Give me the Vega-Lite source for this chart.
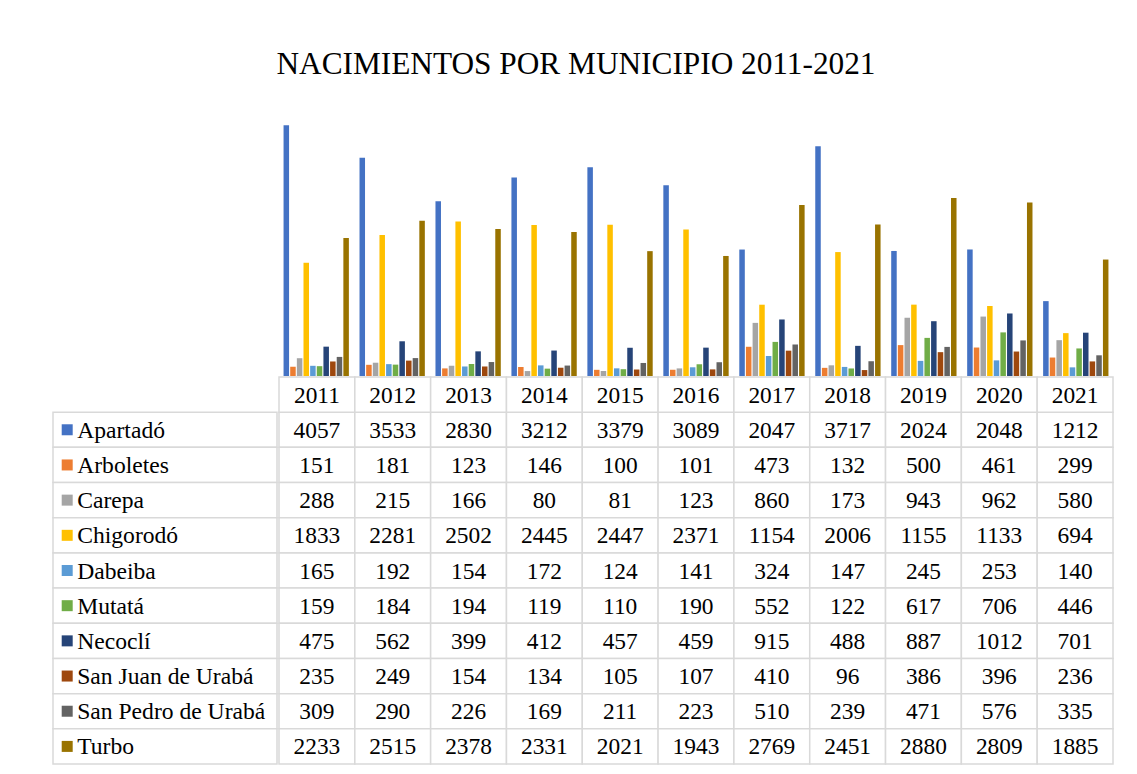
{
  "$schema": "https://vega.github.io/schema/vega-lite/v6.json",
  "padding": {"left": 52, "top": 48, "right": 27, "bottom": 12},
  "autosize": {"type": "pad"},
  "background": "white",
  "title": {"text": "NACIMIENTOS POR MUNICIPIO 2011-2021", "font": "Liberation Serif", "fontSize": 31.3, "fontWeight": "normal", "color": "#000000", "anchor": "middle", "offset": 18, "dx": -7},
  "datasets": {
    "d": [
      {"year": "2011", "muni": "Apartadó", "n": 4057}, {"year": "2012", "muni": "Apartadó", "n": 3533}, {"year": "2013", "muni": "Apartadó", "n": 2830}, {"year": "2014", "muni": "Apartadó", "n": 3212}, {"year": "2015", "muni": "Apartadó", "n": 3379}, {"year": "2016", "muni": "Apartadó", "n": 3089}, {"year": "2017", "muni": "Apartadó", "n": 2047}, {"year": "2018", "muni": "Apartadó", "n": 3717}, {"year": "2019", "muni": "Apartadó", "n": 2024}, {"year": "2020", "muni": "Apartadó", "n": 2048}, {"year": "2021", "muni": "Apartadó", "n": 1212},
      {"year": "2011", "muni": "Arboletes", "n": 151}, {"year": "2012", "muni": "Arboletes", "n": 181}, {"year": "2013", "muni": "Arboletes", "n": 123}, {"year": "2014", "muni": "Arboletes", "n": 146}, {"year": "2015", "muni": "Arboletes", "n": 100}, {"year": "2016", "muni": "Arboletes", "n": 101}, {"year": "2017", "muni": "Arboletes", "n": 473}, {"year": "2018", "muni": "Arboletes", "n": 132}, {"year": "2019", "muni": "Arboletes", "n": 500}, {"year": "2020", "muni": "Arboletes", "n": 461}, {"year": "2021", "muni": "Arboletes", "n": 299},
      {"year": "2011", "muni": "Carepa", "n": 288}, {"year": "2012", "muni": "Carepa", "n": 215}, {"year": "2013", "muni": "Carepa", "n": 166}, {"year": "2014", "muni": "Carepa", "n": 80}, {"year": "2015", "muni": "Carepa", "n": 81}, {"year": "2016", "muni": "Carepa", "n": 123}, {"year": "2017", "muni": "Carepa", "n": 860}, {"year": "2018", "muni": "Carepa", "n": 173}, {"year": "2019", "muni": "Carepa", "n": 943}, {"year": "2020", "muni": "Carepa", "n": 962}, {"year": "2021", "muni": "Carepa", "n": 580},
      {"year": "2011", "muni": "Chigorodó", "n": 1833}, {"year": "2012", "muni": "Chigorodó", "n": 2281}, {"year": "2013", "muni": "Chigorodó", "n": 2502}, {"year": "2014", "muni": "Chigorodó", "n": 2445}, {"year": "2015", "muni": "Chigorodó", "n": 2447}, {"year": "2016", "muni": "Chigorodó", "n": 2371}, {"year": "2017", "muni": "Chigorodó", "n": 1154}, {"year": "2018", "muni": "Chigorodó", "n": 2006}, {"year": "2019", "muni": "Chigorodó", "n": 1155}, {"year": "2020", "muni": "Chigorodó", "n": 1133}, {"year": "2021", "muni": "Chigorodó", "n": 694},
      {"year": "2011", "muni": "Dabeiba", "n": 165}, {"year": "2012", "muni": "Dabeiba", "n": 192}, {"year": "2013", "muni": "Dabeiba", "n": 154}, {"year": "2014", "muni": "Dabeiba", "n": 172}, {"year": "2015", "muni": "Dabeiba", "n": 124}, {"year": "2016", "muni": "Dabeiba", "n": 141}, {"year": "2017", "muni": "Dabeiba", "n": 324}, {"year": "2018", "muni": "Dabeiba", "n": 147}, {"year": "2019", "muni": "Dabeiba", "n": 245}, {"year": "2020", "muni": "Dabeiba", "n": 253}, {"year": "2021", "muni": "Dabeiba", "n": 140},
      {"year": "2011", "muni": "Mutatá", "n": 159}, {"year": "2012", "muni": "Mutatá", "n": 184}, {"year": "2013", "muni": "Mutatá", "n": 194}, {"year": "2014", "muni": "Mutatá", "n": 119}, {"year": "2015", "muni": "Mutatá", "n": 110}, {"year": "2016", "muni": "Mutatá", "n": 190}, {"year": "2017", "muni": "Mutatá", "n": 552}, {"year": "2018", "muni": "Mutatá", "n": 122}, {"year": "2019", "muni": "Mutatá", "n": 617}, {"year": "2020", "muni": "Mutatá", "n": 706}, {"year": "2021", "muni": "Mutatá", "n": 446},
      {"year": "2011", "muni": "Necoclí", "n": 475}, {"year": "2012", "muni": "Necoclí", "n": 562}, {"year": "2013", "muni": "Necoclí", "n": 399}, {"year": "2014", "muni": "Necoclí", "n": 412}, {"year": "2015", "muni": "Necoclí", "n": 457}, {"year": "2016", "muni": "Necoclí", "n": 459}, {"year": "2017", "muni": "Necoclí", "n": 915}, {"year": "2018", "muni": "Necoclí", "n": 488}, {"year": "2019", "muni": "Necoclí", "n": 887}, {"year": "2020", "muni": "Necoclí", "n": 1012}, {"year": "2021", "muni": "Necoclí", "n": 701},
      {"year": "2011", "muni": "San Juan de Urabá", "n": 235}, {"year": "2012", "muni": "San Juan de Urabá", "n": 249}, {"year": "2013", "muni": "San Juan de Urabá", "n": 154}, {"year": "2014", "muni": "San Juan de Urabá", "n": 134}, {"year": "2015", "muni": "San Juan de Urabá", "n": 105}, {"year": "2016", "muni": "San Juan de Urabá", "n": 107}, {"year": "2017", "muni": "San Juan de Urabá", "n": 410}, {"year": "2018", "muni": "San Juan de Urabá", "n": 96}, {"year": "2019", "muni": "San Juan de Urabá", "n": 386}, {"year": "2020", "muni": "San Juan de Urabá", "n": 396}, {"year": "2021", "muni": "San Juan de Urabá", "n": 236},
      {"year": "2011", "muni": "San Pedro de Urabá", "n": 309}, {"year": "2012", "muni": "San Pedro de Urabá", "n": 290}, {"year": "2013", "muni": "San Pedro de Urabá", "n": 226}, {"year": "2014", "muni": "San Pedro de Urabá", "n": 169}, {"year": "2015", "muni": "San Pedro de Urabá", "n": 211}, {"year": "2016", "muni": "San Pedro de Urabá", "n": 223}, {"year": "2017", "muni": "San Pedro de Urabá", "n": 510}, {"year": "2018", "muni": "San Pedro de Urabá", "n": 239}, {"year": "2019", "muni": "San Pedro de Urabá", "n": 471}, {"year": "2020", "muni": "San Pedro de Urabá", "n": 576}, {"year": "2021", "muni": "San Pedro de Urabá", "n": 335},
      {"year": "2011", "muni": "Turbo", "n": 2233}, {"year": "2012", "muni": "Turbo", "n": 2515}, {"year": "2013", "muni": "Turbo", "n": 2378}, {"year": "2014", "muni": "Turbo", "n": 2331}, {"year": "2015", "muni": "Turbo", "n": 2021}, {"year": "2016", "muni": "Turbo", "n": 1943}, {"year": "2017", "muni": "Turbo", "n": 2769}, {"year": "2018", "muni": "Turbo", "n": 2451}, {"year": "2019", "muni": "Turbo", "n": 2880}, {"year": "2020", "muni": "Turbo", "n": 2809}, {"year": "2021", "muni": "Turbo", "n": 1885}
    ]
  },
  "data": {"name": "d"},
  "columns": 2,
  "spacing": 0,
  "concat": [
    {
      "width": 224, "height": 278,
      "data": {"values": [{"k": 1}]},
      "mark": {"type": "text", "text": ""},
      "encoding": {}
    },
    {
      "width": 834, "height": 278,
      "mark": {"type": "bar"},
      "encoding": {
        "x": {"field": "year", "type": "nominal", "axis": null, "scale": {"paddingInner": 0.14, "paddingOuter": 0.06}},
        "xOffset": {"field": "muni", "type": "nominal", "scale": {"domain": ["Apartadó", "Arboletes", "Carepa", "Chigorodó", "Dabeiba", "Mutatá", "Necoclí", "San Juan de Urabá", "San Pedro de Urabá", "Turbo"], "paddingInner": 0.17, "paddingOuter": 0}},
        "y": {"field": "n", "type": "quantitative", "axis": null, "scale": {"domain": [0, 4500], "nice": false}},
        "color": {"field": "muni", "type": "nominal", "legend": null, "scale": {"domain": ["Apartadó", "Arboletes", "Carepa", "Chigorodó", "Dabeiba", "Mutatá", "Necoclí", "San Juan de Urabá", "San Pedro de Urabá", "Turbo"], "range": ["#4472C4", "#ED7D31", "#A5A5A5", "#FFC000", "#5B9BD5", "#70AD47", "#264478", "#9E480E", "#636363", "#997300"]}}
      }
    },
    {
      "width": 224, "height": 387,
      "transform": [{"filter": "datum.year == '2011'"}],
      "encoding": {
        "y": {"field": "muni", "type": "nominal", "axis": null, "scale": {"domain": ["_hdr", "Apartadó", "Arboletes", "Carepa", "Chigorodó", "Dabeiba", "Mutatá", "Necoclí", "San Juan de Urabá", "San Pedro de Urabá", "Turbo"], "paddingInner": 0, "paddingOuter": 0}}
      },
      "layer": [
        {"mark": {"type": "rect", "fill": "white", "stroke": "#D9D9D9", "strokeWidth": 1.5}},
        {"mark": {"type": "point", "shape": "square", "filled": true, "size": 121, "opacity": 1},
         "encoding": {
           "x": {"datum": 14.2, "type": "quantitative", "axis": null, "scale": {"domain": [0, 224], "nice": false, "zero": false}},
           "color": {"field": "muni", "type": "nominal", "legend": null}
         }},
        {"mark": {"type": "text", "align": "left", "baseline": "middle", "font": "Liberation Serif", "fontSize": 23.6, "color": "#000000", "dy": 1},
         "encoding": {
           "x": {"datum": 24.2, "type": "quantitative"},
           "text": {"field": "muni", "type": "nominal"}
         }}
      ]
    },
    {
      "width": 834, "height": 387,
      "encoding": {
        "x": {"field": "year", "type": "nominal", "axis": null, "scale": {"paddingInner": 0, "paddingOuter": 0}},
        "y": {"field": "muni", "type": "nominal", "axis": null, "scale": {"domain": ["_hdr", "Apartadó", "Arboletes", "Carepa", "Chigorodó", "Dabeiba", "Mutatá", "Necoclí", "San Juan de Urabá", "San Pedro de Urabá", "Turbo"], "paddingInner": 0, "paddingOuter": 0}}
      },
      "layer": [
        {"mark": {"type": "rect", "fill": "white", "stroke": "#D9D9D9", "strokeWidth": 1.5}},
        {"transform": [{"filter": "datum.muni == 'Apartadó'"}],
         "mark": {"type": "rect", "fill": "white", "stroke": "#D9D9D9", "strokeWidth": 1.5},
         "encoding": {"y": {"datum": "_hdr", "type": "nominal"}}},
        {"mark": {"type": "text", "align": "center", "baseline": "middle", "font": "Liberation Serif", "fontSize": 23.4, "color": "#000000", "dy": 1},
         "encoding": {"text": {"field": "n", "type": "quantitative", "format": "d"}}},
        {"transform": [{"filter": "datum.muni == 'Apartadó'"}],
         "mark": {"type": "text", "align": "center", "baseline": "middle", "font": "Liberation Serif", "fontSize": 23.4, "color": "#000000", "dy": 1},
         "encoding": {"y": {"datum": "_hdr", "type": "nominal"}, "text": {"field": "year", "type": "nominal"}}}
      ]
    }
  ],
  "config": {"view": {"stroke": null}, "font": "Liberation Serif"}
}
